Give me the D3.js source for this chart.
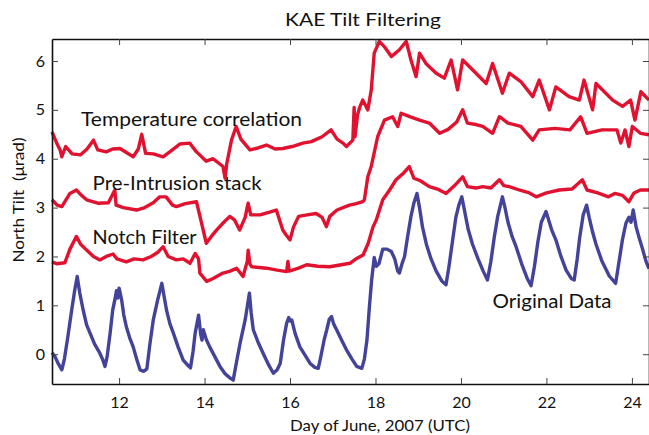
<!DOCTYPE html>
<html>
<head>
<meta charset="utf-8">
<script src="https://cdn.jsdelivr.net/npm/d3@7"></script>
<style>
  body { margin: 0; background: #fff; }
  text { font-family: Lato, "Open Sans", sans-serif; fill: #111; }
  .axis path { stroke: #111; }
  .axis line { stroke: #444; }
</style>
</head>
<body>
<svg id="chart" width="649" height="435"></svg>
<script>
// values, [day, tilt]
const origData = [[10.43,0.03],[10.5,-0.05],[10.58,-0.2],[10.66,-0.32],[10.72,-0.1],[10.8,0.35],[10.89,0.9],[10.96,1.3],[11.02,1.59],[11.08,1.25],[11.16,0.9],[11.24,0.6],[11.32,0.43],[11.43,0.2],[11.55,0.02],[11.62,-0.12],[11.67,-0.25],[11.72,-0.05],[11.79,0.43],[11.85,0.9],[11.9,1.11],[11.94,1.3],[11.97,1.15],[12.0,1.35],[12.06,1.11],[12.11,0.8],[12.17,0.56],[12.25,0.33],[12.33,0.15],[12.41,-0.1],[12.49,-0.32],[12.58,-0.35],[12.65,-0.3],[12.72,0.2],[12.8,0.7],[12.9,1.1],[13.0,1.45],[13.05,1.2],[13.11,0.9],[13.19,0.62],[13.27,0.43],[13.38,0.15],[13.5,-0.12],[13.6,-0.22],[13.67,-0.28],[13.73,0.05],[13.78,0.43],[13.86,0.8],[13.91,0.4],[13.94,0.29],[13.97,0.5],[14.04,0.3],[14.12,0.15],[14.24,-0.05],[14.36,-0.25],[14.48,-0.4],[14.6,-0.49],[14.67,-0.53],[14.75,-0.15],[14.83,0.22],[14.95,0.7],[15.05,1.25],[15.09,0.85],[15.14,0.5],[15.25,0.25],[15.37,0.02],[15.5,-0.22],[15.61,-0.39],[15.7,-0.32],[15.77,-0.19],[15.85,0.3],[15.92,0.63],[15.97,0.75],[16.0,0.68],[16.04,0.7],[16.12,0.42],[16.23,0.15],[16.35,-0.02],[16.47,-0.19],[16.58,-0.27],[16.66,-0.29],[16.72,-0.05],[16.8,0.3],[16.86,0.5],[16.92,0.72],[16.97,0.77],[17.02,0.62],[17.09,0.5],[17.2,0.3],[17.32,0.09],[17.45,-0.1],[17.56,-0.25],[17.68,-0.29],[17.74,-0.1],[17.8,0.29],[17.86,1.0],[17.91,1.52],[17.97,1.98],[18.02,1.8],[18.08,1.85],[18.17,2.15],[18.27,2.15],[18.37,2.1],[18.45,1.95],[18.52,1.7],[18.56,1.66],[18.62,1.85],[18.68,2.0],[18.75,2.4],[18.83,2.82],[18.9,3.1],[18.97,3.29],[19.03,3.0],[19.1,2.6],[19.19,2.25],[19.3,1.95],[19.42,1.7],[19.55,1.5],[19.65,1.42],[19.72,1.8],[19.8,2.3],[19.88,2.8],[19.95,3.05],[20.02,3.22],[20.08,2.95],[20.17,2.55],[20.27,2.25],[20.4,1.95],[20.52,1.7],[20.62,1.52],[20.7,1.9],[20.78,2.4],[20.86,2.82],[20.97,3.22],[21.03,3.0],[21.1,2.7],[21.2,2.4],[21.29,2.2],[21.42,1.85],[21.55,1.55],[21.64,1.4],[21.72,1.8],[21.8,2.3],[21.88,2.7],[21.99,2.92],[22.05,2.75],[22.12,2.55],[22.22,2.34],[22.34,2.0],[22.46,1.72],[22.58,1.55],[22.65,1.52],[22.72,1.95],[22.78,2.4],[22.86,2.85],[22.94,3.05],[23.0,2.8],[23.08,2.5],[23.16,2.25],[23.3,1.9],[23.47,1.6],[23.62,1.45],[23.7,1.9],[23.78,2.35],[23.86,2.68],[23.93,2.8],[23.98,2.7],[24.03,2.95],[24.1,2.6],[24.18,2.35],[24.25,2.15],[24.33,1.9],[24.4,1.75]];

const notchData = [[10.43,1.89],[10.55,1.85],[10.73,1.87],[10.85,2.15],[11.0,2.41],[11.1,2.25],[11.24,2.13],[11.4,2.0],[11.55,1.93],[11.7,2.0],[11.86,2.05],[11.95,1.95],[12.17,1.89],[12.35,1.95],[12.56,1.93],[12.75,2.0],[12.9,2.08],[13.03,2.2],[13.15,2.0],[13.34,1.93],[13.5,1.95],[13.66,1.86],[13.78,2.06],[13.86,1.95],[13.89,1.66],[14.05,1.49],[14.2,1.55],[14.43,1.66],[14.6,1.7],[14.75,1.76],[14.9,1.59],[15.0,1.9],[15.02,2.13],[15.06,1.85],[15.1,1.79],[15.45,1.76],[15.7,1.72],[15.92,1.69],[15.95,1.9],[15.98,1.7],[16.2,1.76],[16.39,1.83],[16.65,1.8],[16.93,1.79],[17.2,1.83],[17.4,1.86],[17.56,1.96],[17.71,2.03],[17.83,2.27],[17.94,2.6],[18.02,2.75],[18.17,3.16],[18.33,3.36],[18.48,3.57],[18.65,3.7],[18.79,3.84],[18.9,3.6],[19.05,3.55],[19.26,3.43],[19.45,3.38],[19.65,3.29],[19.85,3.45],[20.04,3.63],[20.15,3.43],[20.35,3.4],[20.51,3.43],[20.7,3.4],[20.9,3.57],[21.0,3.45],[21.13,3.43],[21.4,3.35],[21.6,3.3],[21.76,3.22],[22.0,3.3],[22.3,3.36],[22.6,3.38],[22.84,3.57],[22.95,3.36],[23.2,3.3],[23.45,3.22],[23.6,3.29],[23.78,3.25],[23.93,3.12],[24.05,3.3],[24.2,3.36],[24.4,3.36]];

const stackData = [[10.43,3.16],[10.55,3.05],[10.66,3.02],[10.85,3.29],[11.0,3.36],[11.12,3.25],[11.24,3.16],[11.5,3.09],[11.75,3.1],[11.9,3.36],[11.93,3.05],[12.1,3.0],[12.41,2.95],[12.6,3.0],[12.8,3.1],[12.95,3.22],[13.1,3.22],[13.25,3.05],[13.34,3.02],[13.55,3.08],[13.81,3.12],[13.93,2.68],[14.04,2.27],[14.15,2.4],[14.28,2.54],[14.45,2.7],[14.59,2.82],[14.7,2.75],[14.82,2.54],[14.95,2.8],[15.02,3.09],[15.08,2.85],[15.3,2.85],[15.5,2.9],[15.68,2.95],[15.83,2.54],[15.9,2.45],[16.0,2.34],[16.08,2.6],[16.2,2.82],[16.4,2.85],[16.61,2.88],[16.75,2.8],[16.85,2.61],[16.93,2.82],[17.1,2.95],[17.39,3.05],[17.55,3.08],[17.7,3.12],[17.74,3.16],[17.82,3.63],[17.9,3.84],[18.05,4.45],[18.21,4.79],[18.4,4.86],[18.52,4.66],[18.6,4.93],[18.8,4.86],[19.03,4.79],[19.26,4.73],[19.5,4.52],[19.7,4.6],[19.9,4.75],[20.04,5.0],[20.15,4.73],[20.35,4.7],[20.51,4.66],[20.74,4.52],[20.9,4.86],[21.1,4.73],[21.4,4.66],[21.68,4.38],[21.83,4.59],[22.2,4.62],[22.55,4.59],[22.8,4.86],[22.95,4.52],[23.3,4.59],[23.65,4.59],[23.74,4.32],[23.84,4.59],[23.93,4.25],[24.01,4.66],[24.2,4.52],[24.4,4.49]];

const tempData = [[10.43,4.55],[10.55,4.3],[10.62,4.18],[10.66,4.04],[10.75,4.25],[10.9,4.1],[11.1,4.08],[11.25,4.2],[11.4,4.38],[11.5,4.18],[11.7,4.14],[11.85,4.2],[12.02,4.21],[12.33,4.04],[12.45,4.2],[12.53,4.5],[12.62,4.11],[12.8,4.1],[13.03,4.04],[13.2,4.15],[13.42,4.3],[13.65,4.32],[13.8,4.15],[14.04,3.95],[14.2,4.0],[14.43,3.84],[14.48,3.6],[14.52,3.9],[14.63,4.38],[14.74,4.66],[14.85,4.4],[15.06,4.18],[15.25,4.22],[15.45,4.28],[15.65,4.2],[15.83,4.21],[16.05,4.25],[16.3,4.32],[16.5,4.35],[16.75,4.45],[16.96,4.59],[17.1,4.4],[17.24,4.32],[17.32,4.25],[17.47,4.38],[17.5,5.05],[17.52,4.45],[17.58,4.9],[17.63,5.05],[17.7,5.2],[17.82,5.0],[17.9,5.4],[17.97,6.16],[18.09,6.4],[18.21,6.29],[18.37,6.09],[18.56,6.23],[18.72,6.4],[18.83,6.02],[18.95,5.68],[19.03,6.16],[19.18,5.95],[19.42,5.75],[19.61,5.65],[19.77,6.02],[19.92,5.41],[20.04,6.02],[20.27,5.82],[20.59,5.54],[20.74,5.95],[20.97,5.34],[21.13,5.75],[21.4,5.58],[21.68,5.27],[21.83,5.61],[22.07,5.0],[22.22,5.47],[22.53,5.27],[22.77,5.2],[22.88,5.61],[23.08,5.0],[23.16,5.54],[23.55,5.2],[23.78,5.07],[23.97,5.2],[24.07,4.79],[24.21,5.37],[24.4,5.2]];

const xTicks = [12, 14, 16, 18, 20, 22, 24];
const yTicks = [0, 1, 2, 3, 4, 5, 6];

const labels = [
  { text: 'Temperature correlation', day: 11.11, tilt: 4.67, len: 221 },
  { text: 'Pre-Intrusion stack', day: 11.38, tilt: 3.36, len: 169 },
  { text: 'Notch Filter', day: 11.38, tilt: 2.26, len: 104 },
  { text: 'Original Data', day: 20.74, tilt: 0.95, len: 119 }
];

const red = '#e0122f', blue = '#43439a';

const svg = d3.select('#chart');
const x = d3.scaleLinear().domain([10.43, 24.4]).range([52, 649]);
const y = d3.scaleLinear().domain([-0.61, 6.45]).range([384, 39]);

const line = d3.line().x(d => x(d[0])).y(d => y(d[1]));

const series = [
  { data: origData, color: blue },
  { data: notchData, color: red },
  { data: stackData, color: red },
  { data: tempData, color: red }
];

svg.append('g').selectAll('path')
  .data(series)
  .enter().append('path')
  .attr('d', d => line(d.data))
  .attr('fill', 'none')
  .attr('stroke', d => d.color)
  .attr('stroke-width', 3.4)
  .attr('stroke-linejoin', 'round');

// axes, ticks pointing inward
svg.append('g').attr('class', 'axis')
  .attr('transform', 'translate(0,384)')
  .call(d3.axisBottom(x).tickValues(xTicks).tickSize(-6).tickPadding(13).tickSizeOuter(0).tickFormat(d3.format('d')))
  .call(g => g.selectAll('text').attr('font-size', 16));

svg.append('g').attr('class', 'axis')
  .attr('transform', 'translate(0,39)')
  .call(d3.axisTop(x).tickValues(xTicks).tickSize(-6).tickFormat('').tickSizeOuter(0));

svg.append('g').attr('class', 'axis')
  .attr('transform', 'translate(52,0)')
  .call(d3.axisLeft(y).tickValues(yTicks).tickSize(-6).tickPadding(7).tickSizeOuter(0).tickFormat(d3.format('d')))
  .call(g => g.selectAll('text').attr('font-size', 16));

svg.append('g').attr('class', 'axis')
  .attr('transform', 'translate(649,0)')
  .call(d3.axisRight(y).tickValues(yTicks).tickSize(-6).tickFormat('').tickSizeOuter(0));

svg.selectAll('.axis path').attr('stroke-width', 1.6);

svg.append('text')
  .attr('x', 363).attr('y', 26)
  .attr('text-anchor', 'middle')
  .attr('font-size', 16.5)
  .attr('textLength', 156)
  .attr('lengthAdjust', 'spacingAndGlyphs')
  .text('KAE Tilt Filtering');

svg.append('text')
  .attr('x', 380).attr('y', 431)
  .attr('text-anchor', 'middle')
  .attr('font-size', 16)
  .attr('textLength', 180)
  .attr('lengthAdjust', 'spacingAndGlyphs')
  .text('Day of June, 2007 (UTC)');

svg.append('text')
  .attr('transform', 'translate(24,200) rotate(-90)')
  .attr('text-anchor', 'middle')
  .attr('font-size', 16)
  .attr('textLength', 125)
  .attr('lengthAdjust', 'spacingAndGlyphs')
  .style('white-space', 'pre')
  .text('North Tilt  (\u03bcrad)');

svg.append('g').selectAll('text')
  .data(labels)
  .enter().append('text')
  .attr('x', d => x(d.day))
  .attr('y', d => y(d.tilt))
  .attr('font-size', 19.5)
  .attr('textLength', d => d.len)
  .attr('lengthAdjust', 'spacingAndGlyphs')
  .text(d => d.text);
</script>
</body>
</html>
